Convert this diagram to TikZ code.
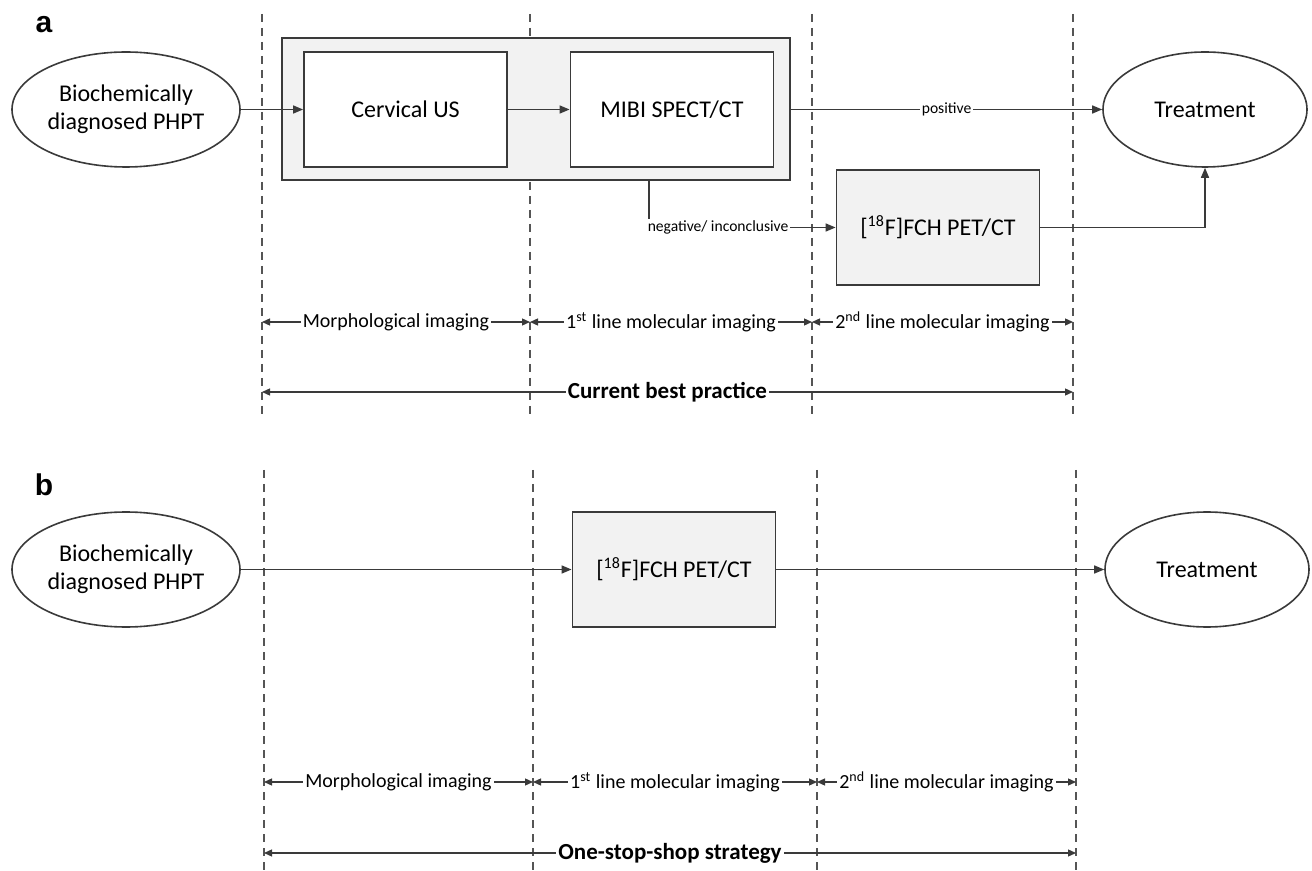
\documentclass[tikz,border=0pt]{standalone}
\usepackage{fontspec}
\setmainfont{Carlito}
\newfontfamily\panelfont{Liberation Sans}
\usetikzlibrary{arrows.meta, shapes.geometric}

\definecolor{boxfill}{HTML}{F2F2F2}
\definecolor{linegray}{HTML}{3A3A3A}
\definecolor{dashgray}{HTML}{555555}

\tikzset{
    ell/.style={ellipse, draw=linegray, line width=0.8pt, minimum width=114pt, minimum height=57.5pt,
        inner sep=0pt, align=center, font=\fontsize{12}{14}\selectfont},
    stepbox/.style={rectangle, draw=linegray, line width=0.9pt, fill=white, minimum width=101.5pt,
        minimum height=57.5pt, inner sep=0pt, font=\fontsize{12}{14}\selectfont},
    grpbox/.style={rectangle, draw=linegray, line width=0.9pt, fill=boxfill, minimum width=254pt,
        minimum height=71pt, inner sep=0pt},
    flow/.style={draw=linegray, line width=0.75pt, -{Triangle[length=5pt, width=4pt]}},
    span/.style={draw=linegray, line width=0.65pt, {Triangle[length=4pt, width=3.5pt]}-{Triangle[length=4pt, width=3.5pt]}},
    phase/.style={dashgray, line width=0.7pt, dash pattern=on 4pt off 3pt},
    smalllbl/.style={fill=white, inner sep=1pt, font=\fontsize{7.8}{9}\selectfont},
    spanlbl/.style={fill=white, inner sep=1pt, font=\fontsize{10}{12}\selectfont},
    totallbl/.style={fill=white, inner sep=1pt, font=\bfseries\fontsize{11.5}{13}\selectfont},
    panel/.style={font=\panelfont\bfseries\fontsize{15}{18}\selectfont}
}

\begin{document}
\begin{tikzpicture}[x=0.5pt, y=-0.5pt]
    \useasboundingbox (0,0) rectangle (1312,871);

    % ---------- panel a ----------
    \node[panel] (lblA) at (44,25) {a};
    % Dashed phase boundaries
    \foreach \x [count=\i] in {262, 530, 812, 1073} {
        \draw[phase] (\x,14) -- (\x,415);
        \coordinate (pa\i) at (\x,322);
        \coordinate (qa\i) at (\x,392);
    }
    \node[ell] (diagA) at (126,109.5) {Biochemically\\diagnosed PHPT};
    \node[grpbox] (grp) at (536,109) {};
    \node[stepbox] (usA) at (405.5,109.5) {Cervical US};
    \node[stepbox] (mibi) at (672,109.5) {MIBI SPECT/CT};
    \node[ell, minimum width=102pt] (treatA) at (1205,109.5) {Treatment};
    \node[stepbox, fill=boxfill] (fchA) at (938,227.5) {[\textsuperscript{18}F]FCH PET/CT};
    \coordinate (negtop) at (649,180);
    \draw[flow] (diagA) -- (usA);
    \draw[flow] (usA) -- (mibi);
    \draw[flow] (grp.east |- mibi) -- node[smalllbl] {positive} (treatA);
    \draw[flow] (negtop) |- node[smalllbl, anchor=west, pos=0.5, xshift=-2pt] {negative/ inconclusive} (fchA);
    \draw[flow] (fchA) -| (treatA);
    % Phases
    \draw[span] (pa1) -- node[spanlbl] {Morphological imaging} (pa2);
    \draw[span] (pa2) -- node[spanlbl] {1\textsuperscript{st} line molecular imaging} (pa3);
    \draw[span] (pa3) -- node[spanlbl] {2\textsuperscript{nd} line molecular imaging} (pa4);
    \draw[span] (qa1) -- node[totallbl] {Current best practice} (qa4);

    % ---------- panel b ----------
    \node[panel] (lblB) at (44,485) {b};
    \foreach \x [count=\i] in {264, 533, 817, 1076} {
        \draw[phase] (\x,470) -- (\x,871);
        \coordinate (pb\i) at (\x,782);
        \coordinate (qb\i) at (\x,853);
    }
    \node[ell] (diagB) at (126,569.5) {Biochemically\\diagnosed PHPT};
    \node[stepbox, fill=boxfill] (fchB) at (674,569.5) {[\textsuperscript{18}F]FCH PET/CT};
    \node[ell, minimum width=102pt] (treatB) at (1207,569.5) {Treatment};
    \draw[flow] (diagB) -- (fchB);
    \draw[flow] (fchB) -- (treatB);
    % Phases
    \draw[span] (pb1) -- node[spanlbl] {Morphological imaging} (pb2);
    \draw[span] (pb2) -- node[spanlbl] {1\textsuperscript{st} line molecular imaging} (pb3);
    \draw[span] (pb3) -- node[spanlbl] {2\textsuperscript{nd} line molecular imaging} (pb4);
    \draw[span] (qb1) -- node[totallbl] {One-stop-shop strategy} (qb4);
\end{tikzpicture}
\end{document}
